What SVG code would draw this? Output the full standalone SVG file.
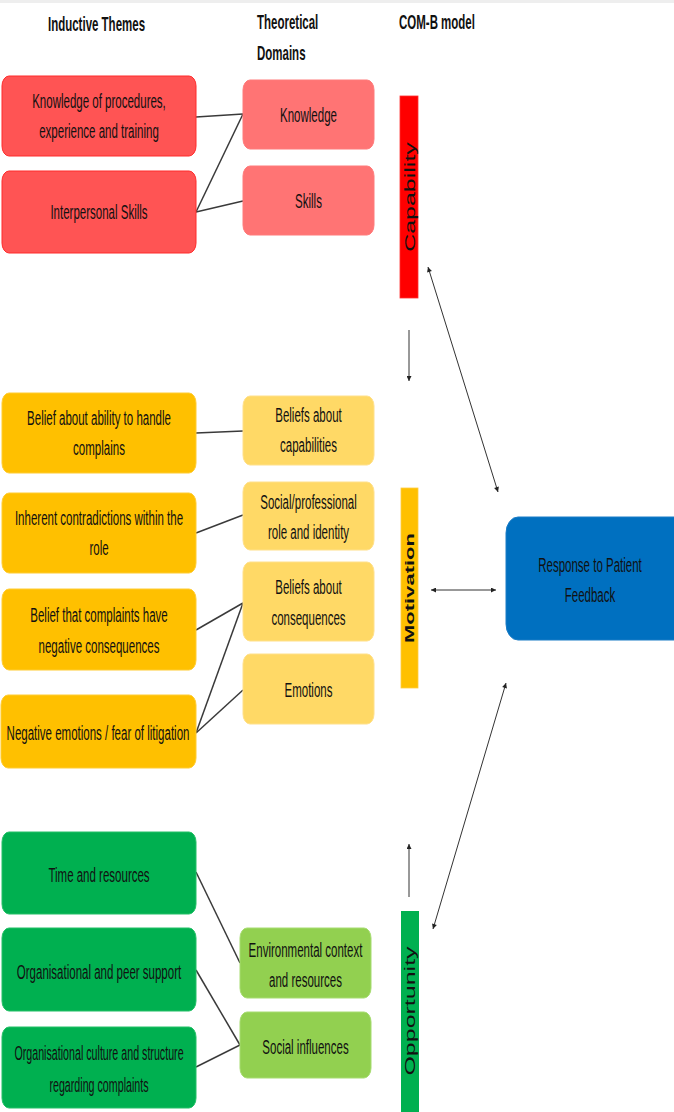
<svg xmlns="http://www.w3.org/2000/svg" width="674" height="1112" viewBox="0 0 674 1112">
<style>
.t{font-family:"Liberation Sans",Arial,sans-serif;font-size:21px;fill:#111;text-anchor:middle;dominant-baseline:central}
.h{font-family:"Liberation Sans",Arial,sans-serif;font-size:20px;font-weight:bold;fill:#111;dominant-baseline:central}
.v{font-family:"Liberation Sans",Arial,sans-serif;font-size:25px;fill:#111;text-anchor:middle;dominant-baseline:central}
.red{fill:#ff5454;stroke:#ff2a2a;stroke-width:1}
.pink{fill:#ff7474;stroke:#ff7a7a;stroke-width:1}
.yel{fill:#ffc000;stroke:#ffcc33;stroke-width:1}
.ly{fill:#ffd966;stroke:#ffe08a;stroke-width:1}
.grn{fill:#00b050;stroke:#22c066;stroke-width:1}
.lg{fill:#92d050;stroke:#a6dc70;stroke-width:1}
.ln{stroke:#3a3a3a;stroke-width:1.5;fill:none}
.ar{stroke:#333;stroke-width:1;fill:none;marker-start:url(#ah);marker-end:url(#ah)}
.ar1{stroke:#333;stroke-width:1;fill:none;marker-end:url(#ah)}
</style>
<defs>
<marker id="ah" viewBox="0 0 10 10" refX="10" refY="5" markerWidth="6" markerHeight="5" markerUnits="userSpaceOnUse" orient="auto-start-reverse">
<path d="M0,0 L10,5 L0,10 z" fill="#222"/>
</marker>
</defs>
<rect x="0" y="0" width="674" height="1112" fill="#ffffff"/>
<rect x="0" y="0" width="674" height="3" fill="#eeeeee"/>

<g id="headers">
<text class="h" text-anchor="middle" transform="translate(96.5,24) scale(0.575,1)">Inductive Themes</text>
<text class="h" transform="translate(257,22) scale(0.575,1)">Theoretical</text>
<text class="h" transform="translate(257,53) scale(0.575,1)">Domains</text>
<text class="h" transform="translate(399,22) scale(0.575,1)">COM-B model</text>
</g>

<g id="connectors">
<line class="ln" x1="196" y1="117" x2="243" y2="114"/>
<line class="ln" x1="243" y1="114" x2="196" y2="212"/>
<line class="ln" x1="196" y1="212" x2="243" y2="201"/>
<line class="ln" x1="196" y1="433" x2="243" y2="431"/>
<line class="ln" x1="196" y1="533" x2="243" y2="515"/>
<line class="ln" x1="196" y1="630" x2="243" y2="603"/>
<line class="ln" x1="196" y1="733" x2="243" y2="603"/>
<line class="ln" x1="196" y1="733" x2="243" y2="690"/>
<line class="ln" x1="196" y1="872" x2="240" y2="963"/>
<line class="ln" x1="196" y1="970" x2="240" y2="1045"/>
<line class="ln" x1="196" y1="1067" x2="240" y2="1045"/>
<line class="ar1" x1="409" y1="330" x2="409" y2="381"/>
<line class="ar1" x1="409" y1="897" x2="409" y2="844"/>
<line class="ar" x1="428" y1="267" x2="498" y2="492"/>
<line class="ar" x1="431" y1="590" x2="496" y2="590"/>
<line class="ar" x1="506" y1="683" x2="433" y2="929"/>
</g>

<g id="n-knowledge-procedures">
<rect class="red" x="2" y="76" width="194" height="80" rx="7" ry="10"/>
<text class="t" transform="translate(99,101) scale(0.548,1)">Knowledge of procedures,</text>
<text class="t" transform="translate(99,131) scale(0.548,1)">experience and training</text>
</g>
<g id="n-interpersonal">
<rect class="red" x="2" y="171" width="194" height="82" rx="7" ry="10"/>
<text class="t" transform="translate(99,212) scale(0.548,1)">Interpersonal Skills</text>
</g>
<g id="n-knowledge">
<rect class="pink" x="243" y="80" width="131" height="69" rx="7" ry="10"/>
<text class="t" transform="translate(308.5,115) scale(0.548,1)">Knowledge</text>
</g>
<g id="n-skills">
<rect class="pink" x="243" y="166" width="131" height="69" rx="7" ry="10"/>
<text class="t" transform="translate(308.5,201) scale(0.548,1)">Skills</text>
</g>
<g id="n-capability">
<rect x="400" y="96" width="18" height="202" fill="#ff0000" stroke="#ff3030" stroke-width="0.8"/>
<text class="v" transform="translate(410,197) scale(0.575,1) rotate(-90)">Capability</text>
</g>

<g id="n-belief-ability">
<rect class="yel" x="2" y="393" width="194" height="80" rx="7" ry="10"/>
<text class="t" transform="translate(99,418) scale(0.548,1)">Belief about ability to handle</text>
<text class="t" transform="translate(99,448) scale(0.548,1)">complains</text>
</g>
<g id="n-inherent">
<rect class="yel" x="2" y="493" width="194" height="80" rx="7" ry="10"/>
<text class="t" transform="translate(99,518) scale(0.548,1)">Inherent contradictions within the</text>
<text class="t" transform="translate(99,548) scale(0.548,1)">role</text>
</g>
<g id="n-belief-consequences">
<rect class="yel" x="2" y="589" width="194" height="81" rx="7" ry="10"/>
<text class="t" transform="translate(99,615) scale(0.548,1)">Belief that complaints have</text>
<text class="t" transform="translate(99,646) scale(0.548,1)">negative consequences</text>
</g>
<g id="n-negative-emotions">
<rect class="yel" x="1" y="695" width="195" height="73" rx="7" ry="10"/>
<text class="t" transform="translate(98,733) scale(0.548,1)">Negative emotions / fear of litigation</text>
</g>
<g id="n-beliefs-capabilities">
<rect class="ly" x="243" y="396" width="131" height="69" rx="7" ry="10"/>
<text class="t" transform="translate(308.5,415) scale(0.548,1)">Beliefs about</text>
<text class="t" transform="translate(308.5,445) scale(0.548,1)">capabilities</text>
</g>
<g id="n-social-role">
<rect class="ly" x="243" y="482" width="131" height="68" rx="7" ry="10"/>
<text class="t" transform="translate(308.5,502) scale(0.548,1)">Social/professional</text>
<text class="t" transform="translate(308.5,532) scale(0.548,1)">role and identity</text>
</g>
<g id="n-beliefs-consequences">
<rect class="ly" x="243" y="562" width="131" height="79" rx="7" ry="10"/>
<text class="t" transform="translate(308.5,587) scale(0.548,1)">Beliefs about</text>
<text class="t" transform="translate(308.5,618) scale(0.548,1)">consequences</text>
</g>
<g id="n-emotions">
<rect class="ly" x="243" y="654" width="131" height="70" rx="7" ry="10"/>
<text class="t" transform="translate(308.5,690) scale(0.548,1)">Emotions</text>
</g>
<g id="n-motivation">
<rect x="401" y="488" width="17" height="200" fill="#ffc000" stroke="#ffcc40" stroke-width="0.8"/>
<text class="v" font-weight="bold" style="font-size:22px" transform="translate(410,588) scale(0.575,1) rotate(-90)">Motivation</text>
</g>

<g id="n-response">
<rect x="506" y="517" width="180" height="123" rx="12" ry="16" fill="#0070c0" stroke="#1a7cc6" stroke-width="1"/>
<text class="t" transform="translate(590,565) scale(0.548,1)">Response to Patient</text>
<text class="t" transform="translate(590,595) scale(0.548,1)">Feedback</text>
</g>

<g id="n-time">
<rect class="grn" x="2" y="832" width="194" height="82" rx="7" ry="10"/>
<text class="t" transform="translate(99,875) scale(0.548,1)">Time and resources</text>
</g>
<g id="n-org-peer">
<rect class="grn" x="2" y="928" width="194" height="83" rx="7" ry="10"/>
<text class="t" transform="translate(99,972) scale(0.548,1)">Organisational and peer support</text>
</g>
<g id="n-org-culture">
<rect class="grn" x="2" y="1027" width="194" height="81" rx="7" ry="10"/>
<text class="t" style="font-size:19.5px" transform="translate(99,1053) scale(0.548,1)">Organisational culture and structure</text>
<text class="t" style="font-size:19.5px" transform="translate(99,1085) scale(0.548,1)">regarding complaints</text>
</g>
<g id="n-environment">
<rect class="lg" x="240" y="928" width="131" height="70" rx="7" ry="10"/>
<text class="t" transform="translate(305.5,950) scale(0.548,1)">Environmental context</text>
<text class="t" transform="translate(305.5,980) scale(0.548,1)">and resources</text>
</g>
<g id="n-social-influences">
<rect class="lg" x="240" y="1012" width="131" height="66" rx="7" ry="10"/>
<text class="t" transform="translate(305.5,1047) scale(0.548,1)">Social influences</text>
</g>
<g id="n-opportunity">
<rect x="401" y="911" width="18" height="205" fill="#00b050"/>
<text class="v" transform="translate(410,1011) scale(0.575,1) rotate(-90)">Opportunity</text>
</g>
</svg>
